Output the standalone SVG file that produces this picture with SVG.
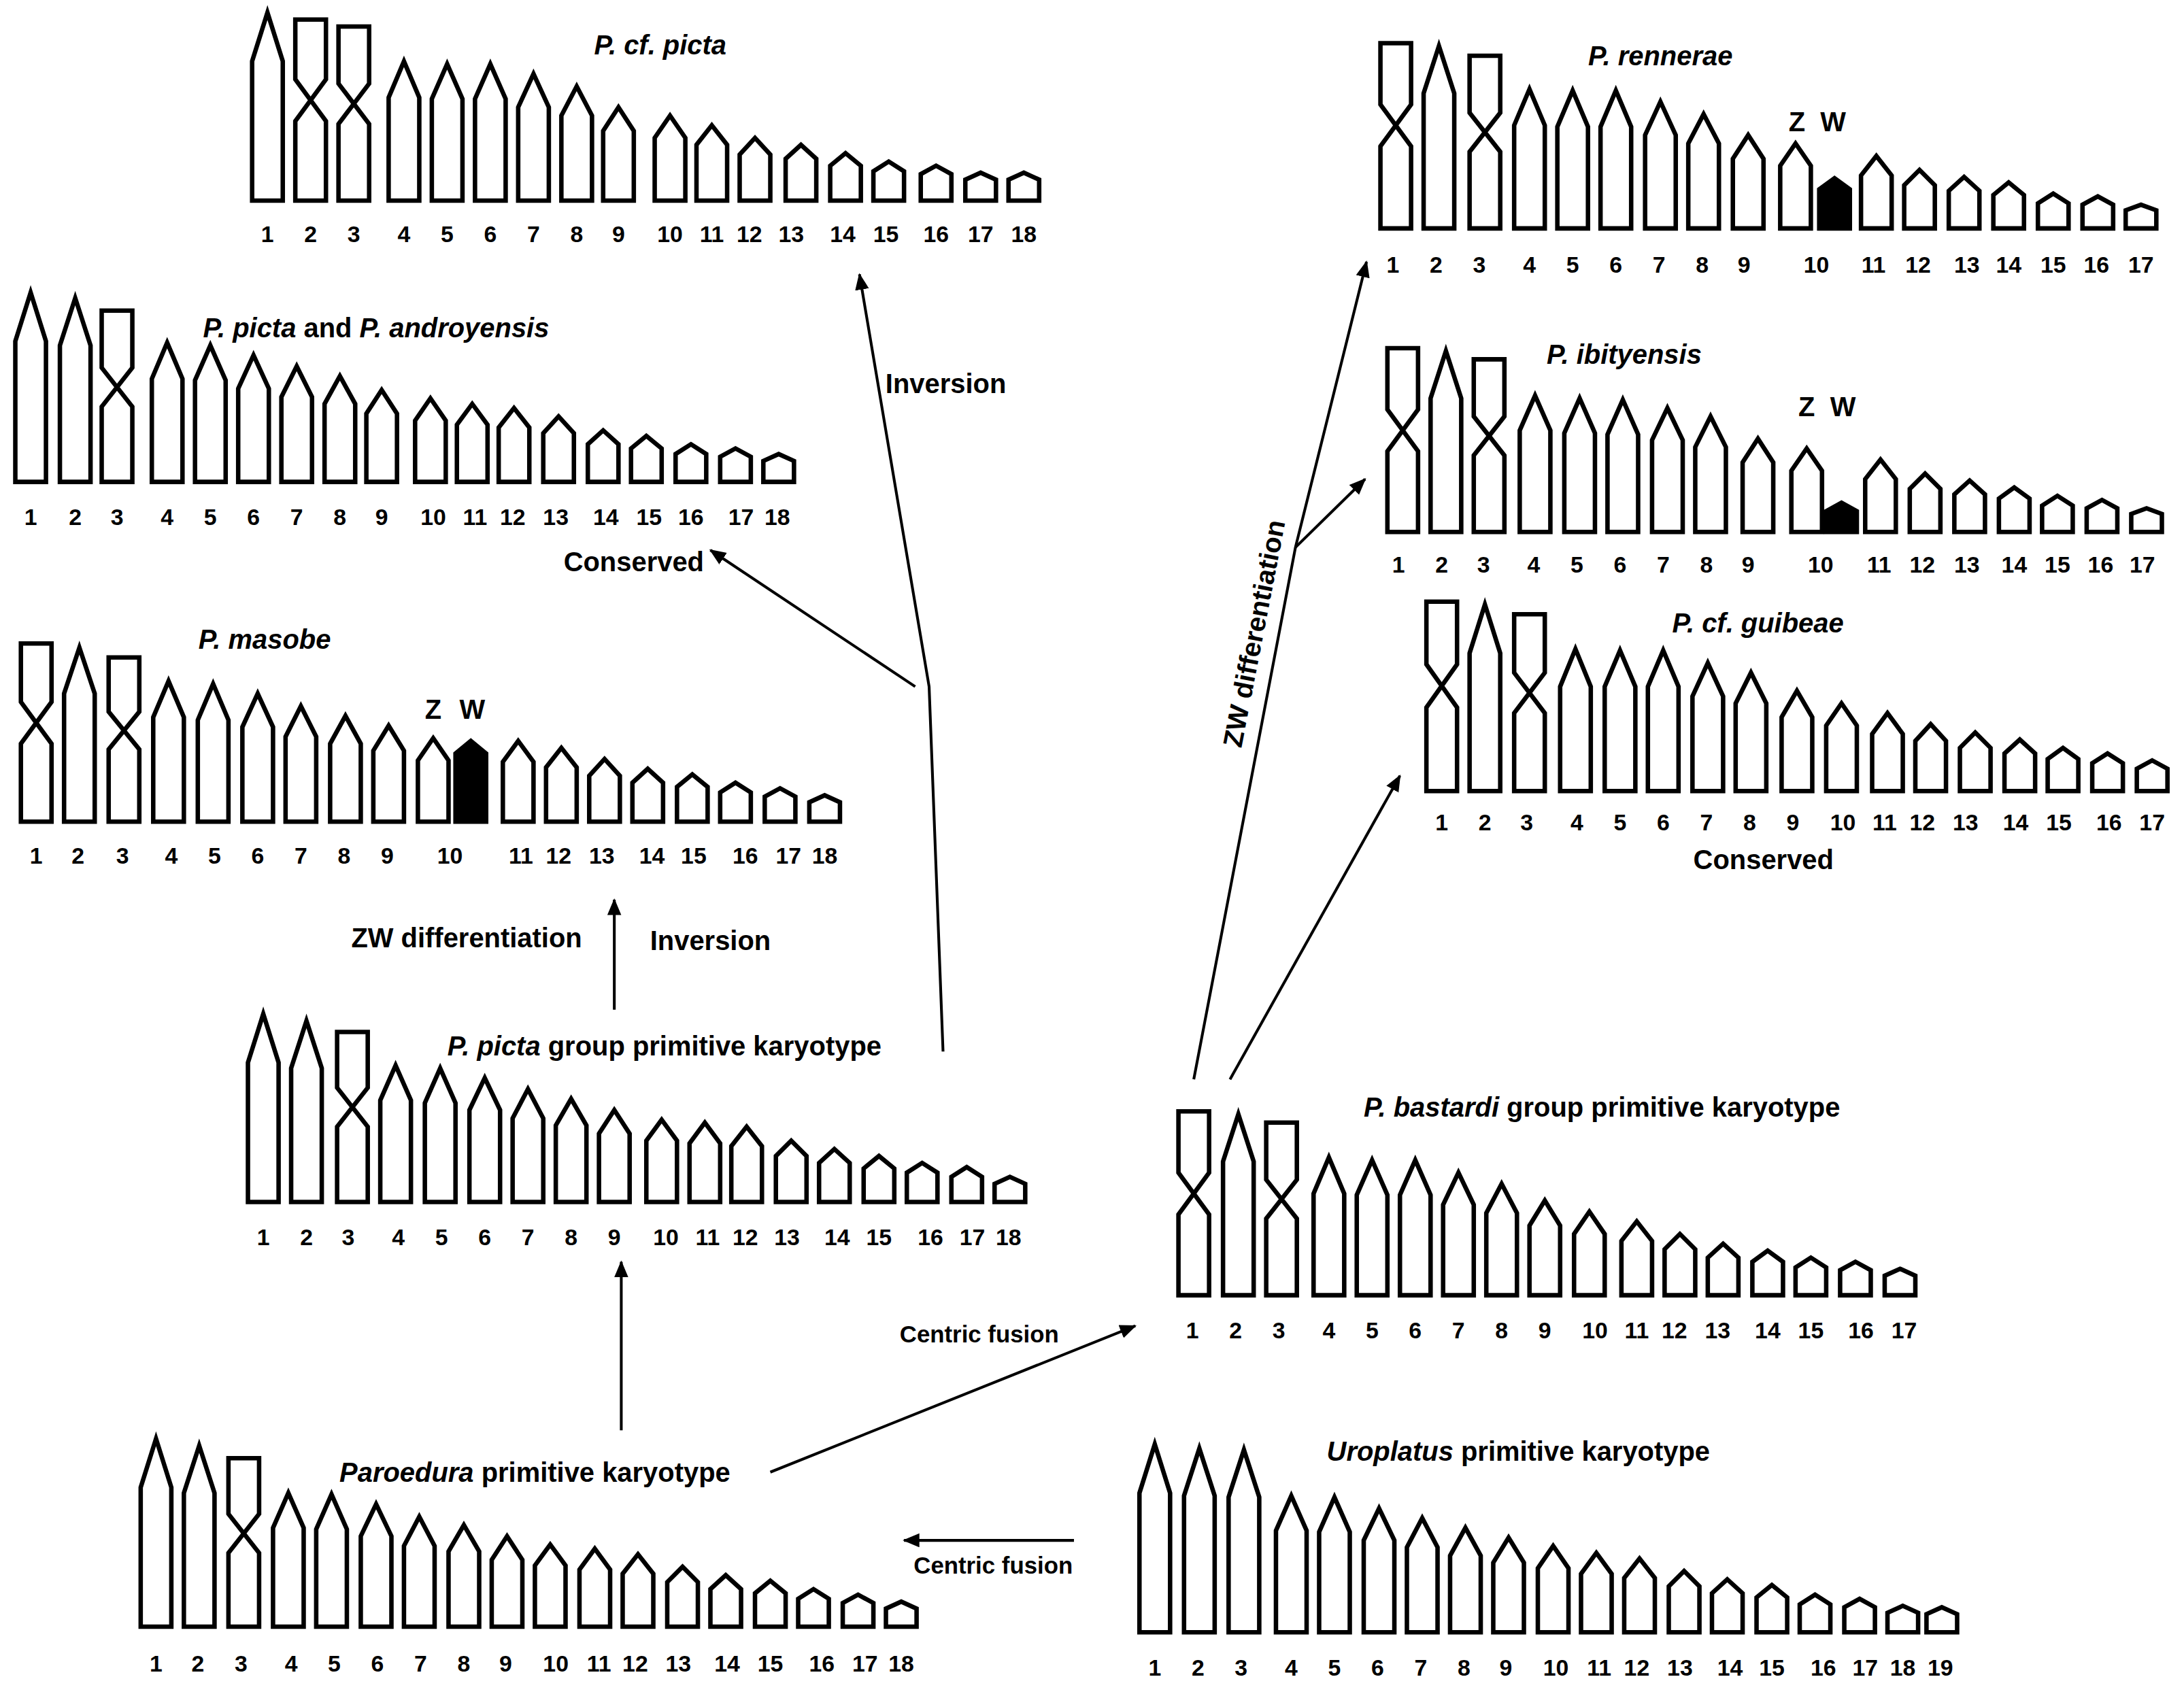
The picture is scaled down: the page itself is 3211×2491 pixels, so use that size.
<svg xmlns="http://www.w3.org/2000/svg" width="3211" height="2491" viewBox="0 0 3211 2491">
<style>
.c{fill:#fff;stroke:#000;stroke-width:3.2;stroke-linejoin:miter}
.w{fill:#000;stroke:#000;stroke-width:3.2}
.n{font-family:"Liberation Sans",Arial,sans-serif;font-weight:bold;font-size:16.5px;text-anchor:middle;fill:#000}
.t{font-family:"Liberation Sans",Arial,sans-serif;font-weight:bold;font-size:19.5px;text-anchor:middle;fill:#000}
.f{font-size:17px}
.i{font-style:italic}
.a{fill:none;stroke:#000;stroke-width:2}
</style>
<defs>
<marker id="ah" markerUnits="userSpaceOnUse" markerWidth="14" markerHeight="12" refX="11" refY="5" orient="auto"><path d="M0,0 L12,5 L0,10 Z" fill="#000"/></marker>
</defs>
<rect width="3211" height="2491" fill="#fff"/>
<g transform="scale(2.048)">
<g id="cfpicta">
<path class="c" d="M181 144V44L192 9L203 44V144Z"/>
<path class="c" d="M212 14H234V57L212 87V144H234V87L212 57Z"/>
<path class="c" d="M243 19H265V60L243 89V144H265V89L243 60Z"/>
<path class="c" d="M279 144V70L290 44L301 70V144Z"/>
<path class="c" d="M310 144V71L321 46L332 71V144Z"/>
<path class="c" d="M341 144V71L352 46L363 71V144Z"/>
<path class="c" d="M372 144V77L383 53L394 77V144Z"/>
<path class="c" d="M403 144V83L414 62L425 83V144Z"/>
<path class="c" d="M433 144V94L444 77L455 94V144Z"/>
<path class="c" d="M470 144V99L481 83L492 99V144Z"/>
<path class="c" d="M500 144V104L511 90L522 104V144Z"/>
<path class="c" d="M531 144V111L542 99L553 111V144Z"/>
<path class="c" d="M564 144V114L575 104L586 114V144Z"/>
<path class="c" d="M596 144V119L607 110L618 119V144Z"/>
<path class="c" d="M627 144V123L638 116L649 123V144Z"/>
<path class="c" d="M661 144V125L672 119L683 125V144Z"/>
<path class="c" d="M693 144V129L704 124L715 129V144Z"/>
<path class="c" d="M724 144V129L735 124L746 129V144Z"/>
<text class="t i" x="474" y="39">P.  cf. picta</text>
<g class="n"><text x="192" y="174">1</text><text x="223" y="174">2</text><text x="254" y="174">3</text><text x="290" y="174">4</text><text x="321" y="174">5</text><text x="352" y="174">6</text><text x="383" y="174">7</text><text x="414" y="174">8</text><text x="444" y="174">9</text><text x="481" y="174">10</text><text x="511" y="174">11</text><text x="538" y="174">12</text><text x="568" y="174">13</text><text x="605" y="174">14</text><text x="636" y="174">15</text><text x="672" y="174">16</text><text x="704" y="174">17</text><text x="735" y="174">18</text></g>
</g>
<g id="picta">
<path class="c" d="M11 346V245L22 210L33 245V346Z"/>
<path class="c" d="M43 346V248L54 214L65 248V346Z"/>
<path class="c" d="M73 223H95V264L73 292V346H95V292L73 264Z"/>
<path class="c" d="M109 346V272L120 246L131 272V346Z"/>
<path class="c" d="M140 346V273L151 248L162 273V346Z"/>
<path class="c" d="M171 346V279L182 255L193 279V346Z"/>
<path class="c" d="M202 346V285L213 263L224 285V346Z"/>
<path class="c" d="M233 346V290L244 270L255 290V346Z"/>
<path class="c" d="M263 346V297L274 280L285 297V346Z"/>
<path class="c" d="M298 346V302L309 286L320 302V346Z"/>
<path class="c" d="M328 346V305L339 290L350 305V346Z"/>
<path class="c" d="M358 346V307L369 293L380 307V346Z"/>
<path class="c" d="M390 346V311L401 299L412 311V346Z"/>
<path class="c" d="M422 346V319L433 309L444 319V346Z"/>
<path class="c" d="M453 346V322L464 313L475 322V346Z"/>
<path class="c" d="M485 346V326L496 319L507 326V346Z"/>
<path class="c" d="M517 346V328L528 322L539 328V346Z"/>
<path class="c" d="M548 346V331L559 326L570 331V346Z"/>
<text class="t" x="270" y="242"><tspan class="i">P. picta</tspan> and <tspan class="i">P. androyensis</tspan></text>
<g class="n"><text x="22" y="377">1</text><text x="54" y="377">2</text><text x="84" y="377">3</text><text x="120" y="377">4</text><text x="151" y="377">5</text><text x="182" y="377">6</text><text x="213" y="377">7</text><text x="244" y="377">8</text><text x="274" y="377">9</text><text x="311" y="377">10</text><text x="341" y="377">11</text><text x="368" y="377">12</text><text x="399" y="377">13</text><text x="435" y="377">14</text><text x="466" y="377">15</text><text x="496" y="377">16</text><text x="532" y="377">17</text><text x="558" y="377">18</text></g>
<text class="t" x="455" y="410">Conserved</text>
</g>
<g id="masobe">
<path class="c" d="M15 462H37V504L15 534V590H37V534L15 504Z"/>
<path class="c" d="M46 590V498L57 465L68 498V590Z"/>
<path class="c" d="M78 472H100V511L78 538V590H100V538L78 511Z"/>
<path class="c" d="M110 590V515L121 489L132 515V590Z"/>
<path class="c" d="M142 590V517L153 491L164 517V590Z"/>
<path class="c" d="M174 590V522L185 498L196 522V590Z"/>
<path class="c" d="M205 590V529L216 507L227 529V590Z"/>
<path class="c" d="M237 590V534L248 514L259 534V590Z"/>
<path class="c" d="M268 590V539L279 521L290 539V590Z"/>
<path class="c" d="M300 590V546L311 530L322 546V590Z"/>
<path class="w" d="M327 590V541L338 532L349 541V590Z"/>
<path class="c" d="M361 590V547L372 532L383 547V590Z"/>
<path class="c" d="M392 590V551L403 537L414 551V590Z"/>
<path class="c" d="M423 590V557L434 545L445 557V590Z"/>
<path class="c" d="M454 590V562L465 552L476 562V590Z"/>
<path class="c" d="M486 590V565L497 556L508 565V590Z"/>
<path class="c" d="M517 590V569L528 562L539 569V590Z"/>
<path class="c" d="M549 590V572L560 566L571 572V590Z"/>
<path class="c" d="M581 590V576L592 571L603 576V590Z"/>
<text class="t i" x="190" y="466">P. masobe</text>
<text class="t" x="311" y="516">Z</text><text class="t" x="339" y="516">W</text>
<g class="n"><text x="26" y="620">1</text><text x="56" y="620">2</text><text x="88" y="620">3</text><text x="123" y="620">4</text><text x="154" y="620">5</text><text x="185" y="620">6</text><text x="216" y="620">7</text><text x="247" y="620">8</text><text x="278" y="620">9</text><text x="323" y="620">10</text><text x="374" y="620">11</text><text x="401" y="620">12</text><text x="432" y="620">13</text><text x="468" y="620">14</text><text x="498" y="620">15</text><text x="535" y="620">16</text><text x="566" y="620">17</text><text x="592" y="620">18</text></g>
</g>
<g id="pictagroup">
<path class="c" d="M178 863V763L189 728L200 763V863Z"/>
<path class="c" d="M209 863V767L220 733L231 767V863Z"/>
<path class="c" d="M242 741H264V781L242 809V863H264V809L242 781Z"/>
<path class="c" d="M273 863V790L284 765L295 790V863Z"/>
<path class="c" d="M305 863V792L316 767L327 792V863Z"/>
<path class="c" d="M337 863V797L348 774L359 797V863Z"/>
<path class="c" d="M368 863V803L379 782L390 803V863Z"/>
<path class="c" d="M399 863V808L410 789L421 808V863Z"/>
<path class="c" d="M430 863V814L441 797L452 814V863Z"/>
<path class="c" d="M464 863V819L475 804L486 819V863Z"/>
<path class="c" d="M495 863V821L506 806L517 821V863Z"/>
<path class="c" d="M525 863V823L536 809L547 823V863Z"/>
<path class="c" d="M557 863V830L568 819L579 830V863Z"/>
<path class="c" d="M588 863V835L599 825L610 835V863Z"/>
<path class="c" d="M620 863V839L631 830L642 839V863Z"/>
<path class="c" d="M651 863V842L662 835L673 842V863Z"/>
<path class="c" d="M683 863V845L694 838L705 845V863Z"/>
<path class="c" d="M714 863V850L725 845L736 850V863Z"/>
<text class="t" x="477" y="758"><tspan class="i">P. picta</tspan> group primitive karyotype</text>
<g class="n"><text x="189" y="894">1</text><text x="220" y="894">2</text><text x="250" y="894">3</text><text x="286" y="894">4</text><text x="317" y="894">5</text><text x="348" y="894">6</text><text x="379" y="894">7</text><text x="410" y="894">8</text><text x="441" y="894">9</text><text x="478" y="894">10</text><text x="508" y="894">11</text><text x="535" y="894">12</text><text x="565" y="894">13</text><text x="601" y="894">14</text><text x="631" y="894">15</text><text x="668" y="894">16</text><text x="698" y="894">17</text><text x="724" y="894">18</text></g>
</g>
<g id="paroedura">
<path class="c" d="M101 1168V1068L112 1033L123 1068V1168Z"/>
<path class="c" d="M132 1168V1072L143 1038L154 1072V1168Z"/>
<path class="c" d="M164 1047H186V1087L164 1115V1168H186V1115L164 1087Z"/>
<path class="c" d="M196 1168V1097L207 1072L218 1097V1168Z"/>
<path class="c" d="M227 1168V1098L238 1073L249 1098V1168Z"/>
<path class="c" d="M259 1168V1103L270 1080L281 1103V1168Z"/>
<path class="c" d="M290 1168V1110L301 1089L312 1110V1168Z"/>
<path class="c" d="M322 1168V1114L333 1095L344 1114V1168Z"/>
<path class="c" d="M353 1168V1120L364 1103L375 1120V1168Z"/>
<path class="c" d="M384 1168V1124L395 1109L406 1124V1168Z"/>
<path class="c" d="M416 1168V1127L427 1112L438 1127V1168Z"/>
<path class="c" d="M447 1168V1130L458 1116L469 1130V1168Z"/>
<path class="c" d="M479 1168V1136L490 1125L501 1136V1168Z"/>
<path class="c" d="M510 1168V1141L521 1131L532 1141V1168Z"/>
<path class="c" d="M542 1168V1144L553 1135L564 1144V1168Z"/>
<path class="c" d="M573 1168V1148L584 1141L595 1148V1168Z"/>
<path class="c" d="M605 1168V1151L616 1145L627 1151V1168Z"/>
<path class="c" d="M636 1168V1155L647 1150L658 1155V1168Z"/>
<text class="t" x="384" y="1064"><tspan class="i">Paroedura</tspan> primitive karyotype</text>
<g class="n"><text x="112" y="1200">1</text><text x="142" y="1200">2</text><text x="173" y="1200">3</text><text x="209" y="1200">4</text><text x="240" y="1200">5</text><text x="271" y="1200">6</text><text x="302" y="1200">7</text><text x="333" y="1200">8</text><text x="363" y="1200">9</text><text x="399" y="1200">10</text><text x="430" y="1200">11</text><text x="456" y="1200">12</text><text x="487" y="1200">13</text><text x="522" y="1200">14</text><text x="553" y="1200">15</text><text x="590" y="1200">16</text><text x="621" y="1200">17</text><text x="647" y="1200">18</text></g>
</g>
<g id="uroplatus">
<path class="c" d="M818 1172V1072L829 1037L840 1072V1172Z"/>
<path class="c" d="M850 1172V1074L861 1040L872 1074V1172Z"/>
<path class="c" d="M882 1172V1075L893 1041L904 1075V1172Z"/>
<path class="c" d="M916 1172V1099L927 1074L938 1099V1172Z"/>
<path class="c" d="M947 1172V1100L958 1075L969 1100V1172Z"/>
<path class="c" d="M979 1172V1106L990 1083L1001 1106V1172Z"/>
<path class="c" d="M1010 1172V1111L1021 1090L1032 1111V1172Z"/>
<path class="c" d="M1041 1172V1117L1052 1097L1063 1117V1172Z"/>
<path class="c" d="M1072 1172V1122L1083 1104L1094 1122V1172Z"/>
<path class="c" d="M1104 1172V1126L1115 1110L1126 1126V1172Z"/>
<path class="c" d="M1135 1172V1130L1146 1115L1157 1130V1172Z"/>
<path class="c" d="M1166 1172V1133L1177 1119L1188 1133V1172Z"/>
<path class="c" d="M1198 1172V1139L1209 1128L1220 1139V1172Z"/>
<path class="c" d="M1229 1172V1144L1240 1134L1251 1144V1172Z"/>
<path class="c" d="M1261 1172V1147L1272 1138L1283 1147V1172Z"/>
<path class="c" d="M1292 1172V1152L1303 1145L1314 1152V1172Z"/>
<path class="c" d="M1324 1172V1154L1335 1148L1346 1154V1172Z"/>
<path class="c" d="M1355 1172V1158L1366 1153L1377 1158V1172Z"/>
<path class="c" d="M1383 1172V1159L1394 1154L1405 1159V1172Z"/>
<text class="t" x="1090" y="1049"><tspan class="i">Uroplatus</tspan> primitive karyotype</text>
<g class="n"><text x="829" y="1203">1</text><text x="860" y="1203">2</text><text x="891" y="1203">3</text><text x="927" y="1203">4</text><text x="958" y="1203">5</text><text x="989" y="1203">6</text><text x="1020" y="1203">7</text><text x="1051" y="1203">8</text><text x="1081" y="1203">9</text><text x="1117" y="1203">10</text><text x="1148" y="1203">11</text><text x="1175" y="1203">12</text><text x="1206" y="1203">13</text><text x="1242" y="1203">14</text><text x="1272" y="1203">15</text><text x="1309" y="1203">16</text><text x="1339" y="1203">17</text><text x="1366" y="1203">18</text><text x="1393" y="1203">19</text></g>
</g>
<g id="bastardi">
<path class="c" d="M846 798H868V842L846 872V930H868V872L846 842Z"/>
<path class="c" d="M878 930V834L889 800L900 834V930Z"/>
<path class="c" d="M909 806H931V847L909 875V930H931V875L909 847Z"/>
<path class="c" d="M943 930V857L954 831L965 857V930Z"/>
<path class="c" d="M974 930V858L985 833L996 858V930Z"/>
<path class="c" d="M1005 930V858L1016 833L1027 858V930Z"/>
<path class="c" d="M1036 930V865L1047 842L1058 865V930Z"/>
<path class="c" d="M1067 930V871L1078 850L1089 871V930Z"/>
<path class="c" d="M1098 930V880L1109 862L1120 880V930Z"/>
<path class="c" d="M1130 930V886L1141 870L1152 886V930Z"/>
<path class="c" d="M1164 930V891L1175 877L1186 891V930Z"/>
<path class="c" d="M1195 930V897L1206 886L1217 897V930Z"/>
<path class="c" d="M1226 930V903L1237 893L1248 903V930Z"/>
<path class="c" d="M1258 930V906L1269 898L1280 906V930Z"/>
<path class="c" d="M1289 930V910L1300 903L1311 910V930Z"/>
<path class="c" d="M1321 930V912L1332 906L1343 912V930Z"/>
<path class="c" d="M1353 930V916L1364 911L1375 916V930Z"/>
<text class="t" x="1150" y="802"><tspan class="i">P. bastardi</tspan> group primitive karyotype</text>
<g class="n"><text x="856" y="961">1</text><text x="887" y="961">2</text><text x="918" y="961">3</text><text x="954" y="961">4</text><text x="985" y="961">5</text><text x="1016" y="961">6</text><text x="1047" y="961">7</text><text x="1078" y="961">8</text><text x="1109" y="961">9</text><text x="1145" y="961">10</text><text x="1175" y="961">11</text><text x="1202" y="961">12</text><text x="1233" y="961">13</text><text x="1269" y="961">14</text><text x="1300" y="961">15</text><text x="1336" y="961">16</text><text x="1367" y="961">17</text></g>
</g>
<g id="rennerae">
<path class="c" d="M991 31H1013V75L991 105V164H1013V105L991 75Z"/>
<path class="c" d="M1022 164V67L1033 33L1044 67V164Z"/>
<path class="c" d="M1055 40H1077V81L1055 109V164H1077V109L1055 81Z"/>
<path class="c" d="M1087 164V90L1098 64L1109 90V164Z"/>
<path class="c" d="M1118 164V91L1129 65L1140 91V164Z"/>
<path class="c" d="M1149 164V91L1160 65L1171 91V164Z"/>
<path class="c" d="M1181 164V97L1192 73L1203 97V164Z"/>
<path class="c" d="M1212 164V103L1223 82L1234 103V164Z"/>
<path class="c" d="M1244 164V114L1255 97L1266 114V164Z"/>
<path class="c" d="M1278 164V119L1289 103L1300 119V164Z"/>
<path class="w" d="M1306 164V136L1317 128L1328 136V164Z"/>
<path class="c" d="M1336 164V126L1347 112L1358 126V164Z"/>
<path class="c" d="M1367 164V133L1378 122L1389 133V164Z"/>
<path class="c" d="M1399 164V137L1410 127L1421 137V164Z"/>
<path class="c" d="M1431 164V140L1442 131L1453 140V164Z"/>
<path class="c" d="M1463 164V146L1474 139L1485 146V164Z"/>
<path class="c" d="M1495 164V147L1506 141L1517 147V164Z"/>
<path class="c" d="M1526 164V151L1537 147L1548 151V164Z"/>
<text class="t i" x="1192" y="47">P. rennerae</text>
<text class="t" x="1290" y="94">Z</text><text class="t" x="1316" y="94">W</text>
<g class="n"><text x="1000" y="196">1</text><text x="1031" y="196">2</text><text x="1062" y="196">3</text><text x="1098" y="196">4</text><text x="1129" y="196">5</text><text x="1160" y="196">6</text><text x="1191" y="196">7</text><text x="1222" y="196">8</text><text x="1252" y="196">9</text><text x="1304" y="196">10</text><text x="1345" y="196">11</text><text x="1377" y="196">12</text><text x="1412" y="196">13</text><text x="1442" y="196">14</text><text x="1474" y="196">15</text><text x="1505" y="196">16</text><text x="1537" y="196">17</text></g>
</g>
<g id="ibityensis">
<path class="c" d="M996 250H1018V294L996 324V382H1018V324L996 294Z"/>
<path class="c" d="M1027 382V286L1038 252L1049 286V382Z"/>
<path class="c" d="M1058 258H1080V299L1058 327V382H1080V327L1058 299Z"/>
<path class="c" d="M1091 382V309L1102 284L1113 309V382Z"/>
<path class="c" d="M1123 382V311L1134 286L1145 311V382Z"/>
<path class="c" d="M1154 382V312L1165 287L1176 312V382Z"/>
<path class="c" d="M1186 382V316L1197 293L1208 316V382Z"/>
<path class="c" d="M1217 382V321L1228 299L1239 321V382Z"/>
<path class="c" d="M1251 382V332L1262 315L1273 332V382Z"/>
<path class="c" d="M1286 382V338L1297 322L1308 338V382Z"/>
<path class="w" d="M1311 382V367L1322 361L1333 367V382Z"/>
<path class="c" d="M1339 382V344L1350 330L1361 344V382Z"/>
<path class="c" d="M1371 382V351L1382 340L1393 351V382Z"/>
<path class="c" d="M1403 382V355L1414 345L1425 355V382Z"/>
<path class="c" d="M1435 382V358L1446 350L1457 358V382Z"/>
<path class="c" d="M1466 382V363L1477 356L1488 363V382Z"/>
<path class="c" d="M1498 382V365L1509 359L1520 365V382Z"/>
<path class="c" d="M1530 382V369L1541 365L1552 369V382Z"/>
<text class="t i" x="1166" y="261">P. ibityensis</text>
<text class="t" x="1297" y="299">Z</text><text class="t" x="1323" y="299">W</text>
<g class="n"><text x="1004" y="411">1</text><text x="1035" y="411">2</text><text x="1065" y="411">3</text><text x="1101" y="411">4</text><text x="1132" y="411">5</text><text x="1163" y="411">6</text><text x="1194" y="411">7</text><text x="1225" y="411">8</text><text x="1255" y="411">9</text><text x="1307" y="411">10</text><text x="1349" y="411">11</text><text x="1380" y="411">12</text><text x="1412" y="411">13</text><text x="1446" y="411">14</text><text x="1477" y="411">15</text><text x="1508" y="411">16</text><text x="1538" y="411">17</text></g>
</g>
<g id="guibeae">
<path class="c" d="M1024 432H1046V477L1024 508V568H1046V508L1024 477Z"/>
<path class="c" d="M1055 568V469L1066 434L1077 469V568Z"/>
<path class="c" d="M1087 441H1109V483L1087 512V568H1109V512L1087 483Z"/>
<path class="c" d="M1120 568V493L1131 466L1142 493V568Z"/>
<path class="c" d="M1152 568V493L1163 467L1174 493V568Z"/>
<path class="c" d="M1183 568V493L1194 467L1205 493V568Z"/>
<path class="c" d="M1215 568V500L1226 476L1237 500V568Z"/>
<path class="c" d="M1246 568V505L1257 483L1268 505V568Z"/>
<path class="c" d="M1279 568V515L1290 496L1301 515V568Z"/>
<path class="c" d="M1311 568V521L1322 505L1333 521V568Z"/>
<path class="c" d="M1344 568V527L1355 512L1366 527V568Z"/>
<path class="c" d="M1375 568V532L1386 520L1397 532V568Z"/>
<path class="c" d="M1407 568V537L1418 526L1429 537V568Z"/>
<path class="c" d="M1439 568V541L1450 531L1461 541V568Z"/>
<path class="c" d="M1470 568V545L1481 537L1492 545V568Z"/>
<path class="c" d="M1502 568V548L1513 541L1524 548V568Z"/>
<path class="c" d="M1534 568V552L1545 546L1556 552V568Z"/>
<text class="t i" x="1262" y="454">P. cf. guibeae</text>
<g class="n"><text x="1035" y="596">1</text><text x="1066" y="596">2</text><text x="1096" y="596">3</text><text x="1132" y="596">4</text><text x="1163" y="596">5</text><text x="1194" y="596">6</text><text x="1225" y="596">7</text><text x="1256" y="596">8</text><text x="1287" y="596">9</text><text x="1323" y="596">10</text><text x="1353" y="596">11</text><text x="1380" y="596">12</text><text x="1411" y="596">13</text><text x="1447" y="596">14</text><text x="1478" y="596">15</text><text x="1514" y="596">16</text><text x="1545" y="596">17</text></g>
<text class="t" x="1266" y="624">Conserved</text>
</g>
<g id="connectors">
<path class="a" d="M677 755L667 493L617 197" marker-end="url(#ah)"/>
<path class="a" d="M657 493L510 395" marker-end="url(#ah)"/>
<path class="a" d="M441 725V646" marker-end="url(#ah)"/>
<path class="a" d="M446 1027V906" marker-end="url(#ah)"/>
<path class="a" d="M553 1057L815 952" marker-end="url(#ah)"/>
<path class="a" d="M771 1106H649" marker-end="url(#ah)"/>
<path class="a" d="M857 775L930 393L981 188" marker-end="url(#ah)"/>
<path class="a" d="M930 393L980 344" marker-end="url(#ah)"/>
<path class="a" d="M883 775L1005 557" marker-end="url(#ah)"/>
<text class="t" x="679" y="282">Inversion</text>
<text class="t" x="335" y="680">ZW differentiation</text>
<text class="t" x="510" y="682">Inversion</text>
<text class="t f" x="703" y="964">Centric fusion</text>
<text class="t f" x="713" y="1130">Centric fusion</text>
<text class="t" transform="translate(901,455) rotate(-79)" y="6">ZW differentiation</text>
</g>
</g>
</svg>
